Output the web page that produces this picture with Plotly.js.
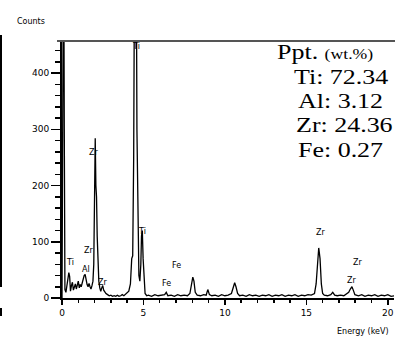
<!DOCTYPE html>
<html>
<head>
<meta charset="utf-8">
<script src="https://cdn.plot.ly/plotly-3.0.1.min.js"></script>
<style>html,body{margin:0;padding:0;background:#fff;}#chart{width:395px;height:340px;}</style>
</head>
<body>
<div id="chart"></div>
<script>
// Energy (keV) and counts
const energy = [0, 0.05, 0.1, 0.14, 0.18, 0.24, 0.3, 0.36, 0.42, 0.47, 0.52, 0.58, 0.64, 0.7, 0.76, 0.82, 0.88, 0.94, 1.0, 1.06, 1.12, 1.18, 1.24, 1.3, 1.36, 1.42, 1.48, 1.54, 1.6, 1.66, 1.72, 1.78, 1.84, 1.9, 1.95, 2.0, 2.04, 2.08, 2.12, 2.16, 2.2, 2.26, 2.32, 2.38, 2.44, 2.5, 2.56, 2.62, 2.7, 2.8, 2.9, 3.0, 3.1, 3.2, 3.3, 3.4, 3.5, 3.6, 3.7, 3.8, 3.9, 4.0, 4.1, 4.2, 4.28, 4.34, 4.4, 4.45, 4.5, 4.55, 4.6, 4.66, 4.72, 4.78, 4.84, 4.88, 4.93, 4.98, 5.04, 5.1, 5.2,
  5.3, 5.5, 5.7, 5.9, 6.1, 6.3, 6.4, 6.5, 6.7, 6.9, 7.1, 7.3, 7.5, 7.7, 7.85, 7.95, 8.03, 8.1, 8.18, 8.3, 8.5, 8.7, 8.85, 8.95, 9.05, 9.2, 9.4, 9.6, 9.8, 10.0, 10.2, 10.4, 10.52, 10.6, 10.68, 10.78, 10.9,
  11.1, 11.3, 11.5, 11.7, 11.9, 12.1, 12.3, 12.5, 12.7, 12.9, 13.1, 13.3, 13.5, 13.7, 13.9, 14.1, 14.3, 14.5, 14.7, 14.9, 15.1, 15.3, 15.5, 15.6, 15.68, 15.76, 15.84, 15.92, 16.0, 16.1, 16.3, 16.5, 16.62, 16.74, 16.9,
  17.1, 17.3, 17.45, 17.6, 17.7, 17.8, 17.88, 17.98, 18.2, 18.4, 18.6, 18.8, 19.0, 19.2, 19.4, 19.6, 19.8, 20.0, 20.2, 20.4];
const counts = [0, 300, 700, 300, 15, 10, 20, 30, 45, 38, 12, 22, 28, 14, 20, 25, 16, 22, 30, 18, 24, 20, 28, 34, 40, 42, 30, 24, 20, 26, 20, 16, 22, 30, 60, 190, 284, 200, 180, 110, 60, 30, 18, 12, 18, 22, 14, 10, 8, 6, 4, 5, 3, 4, 3, 5, 3, 4, 6, 4, 7, 9, 12, 25, 70, 75, 250, 600, 900, 700, 300, 90, 40, 30, 60, 110, 120, 70, 25, 8, 4,
  5, 3, 6, 4, 5, 6, 10, 4, 5, 3, 6, 4, 5, 4, 8, 28, 37, 30, 10, 5, 4, 6, 5, 15, 6, 4, 5, 3, 6, 4, 5, 8, 18, 27, 20, 8, 4,
  5, 3, 6, 4, 5, 3, 5, 4, 6, 3, 5, 4, 6, 3, 5, 4, 6, 3, 5, 4, 6, 5, 8, 25, 65, 89, 70, 25, 8, 5, 4, 6, 10, 5, 4,
  5, 4, 7, 10, 16, 20, 14, 6, 4, 6, 3, 5, 4, 6, 3, 5, 4, 6, 3, 4];

// Peak labels: element, energy, counts position
const peakNames = ["Ti", "Al", "Zr", "Zr", "Zr", "Ti", "Ti", "Fe", "Fe", "Zr", "Zr", "Zr"];
const peakE = [0.47, 1.45, 1.95, 1.64, 2.5, 4.55, 4.89, 7.04, 6.43, 15.88, 18.15, 17.8];
const peakC = [64, 50, 258, 84, 28, 447, 119, 57, 25, 116, 64, 32];

// Composition box
const compTitle = "Ppt.";
const compUnit = "(wt.%)";
const compLines = ["Ti: 72.34", "Al: 3.12", "Zr: 24.36", "Fe: 0.27"];

const xTickVals = [0, 5, 10, 15, 20];
const yTickVals = [0, 100, 200, 300, 400];

const L = 62, R = 1, T = 41, B = 42;
const W = 395, H = 340;
const pw = W - L - R, ph = H - T - B;
function px(p){ return (p - L) / pw; }
function py(q){ return (H - B - q) / ph; }

const annotations = [];
for (let i = 0; i < peakNames.length; i++) {
  annotations.push({x: peakE[i], y: peakC[i], xref: 'x', yref: 'y', text: peakNames[i], showarrow: false,
    font: {family: 'DejaVu Sans', size: 8, color: '#000'}, xanchor: 'center', yanchor: 'middle'});
}
const stretchIdx = [];
stretchIdx.push(annotations.length);
annotations.push({x: px(275), y: py(52), xref: 'paper', yref: 'paper', xanchor: 'left', yanchor: 'middle', showarrow: false,
  text: compTitle + ' <span style="font-size:15px">' + compUnit + '</span>',
  font: {family: 'Liberation Serif', size: 22, color: '#000'}});
const compX = [292, 296, 294, 296];
const compY = [76, 100, 125, 149];
for (let i = 0; i < compLines.length; i++) {
  stretchIdx.push(annotations.length);
  annotations.push({x: px(compX[i]), y: py(compY[i]), xref: 'paper', yref: 'paper', xanchor: 'left', yanchor: 'middle', showarrow: false,
    text: compLines[i], font: {family: 'Liberation Serif', size: 22, color: '#000'}});
}
annotations.push({x: px(31), y: py(21), xref: 'paper', yref: 'paper', xanchor: 'center', yanchor: 'middle', showarrow: false,
  text: 'Counts', font: {family: 'DejaVu Sans', size: 8, color: '#000'}});
annotations.push({x: px(363), y: py(331), xref: 'paper', yref: 'paper', xanchor: 'center', yanchor: 'middle', showarrow: false,
  text: 'Energy (keV)', font: {family: 'DejaVu Sans', size: 8, color: '#000'}});

const shapes = [
  {type: 'line', xref: 'paper', yref: 'paper', x0: px(57), x1: px(395), y0: py(41), y1: py(41), line: {color: '#555', width: 2}},
  {type: 'line', xref: 'paper', yref: 'paper', x0: px(1), x1: px(1), y0: py(35), y1: py(287), line: {color: '#000', width: 2}},
  {type: 'line', xref: 'paper', yref: 'paper', x0: px(1), x1: px(1), y0: py(308), y1: py(316), line: {color: '#000', width: 2}}
];

const trace = {x: energy, y: counts, type: 'scatter', mode: 'lines', line: {color: '#000', width: 1.3}, hoverinfo: 'skip'};

const layout = {
  width: W, height: H,
  margin: {l: L, r: R, t: T, b: B, pad: 0},
  paper_bgcolor: '#fff', plot_bgcolor: '#fff',
  showlegend: false,
  xaxis: {range: [0, pw / 16.29], tickvals: xTickVals, ticktext: xTickVals.map(String), ticks: 'outside', ticklen: 5, tickwidth: 1.5, tickcolor: '#000',
    minor: {dtick: 1, tick0: 0, ticks: 'outside', ticklen: 3, tickcolor: '#000', tickwidth: 1.5},
    showline: true, linecolor: '#000', linewidth: 2, showgrid: false, zeroline: false,
    tickfont: {family: 'DejaVu Sans', size: 9, color: '#000'}, fixedrange: true},
  yaxis: {range: [0, ph / 0.5625], tickvals: yTickVals, ticktext: yTickVals.map(String), ticks: 'outside', ticklen: 9, tickwidth: 1.5, tickcolor: '#000',
    minor: {dtick: 20, tick0: 0, ticks: 'outside', ticklen: 5, tickcolor: '#000', tickwidth: 1.5},
    showline: true, linecolor: '#000', linewidth: 2, showgrid: false, zeroline: false,
    tickfont: {family: 'DejaVu Sans', size: 9, color: '#000'}, fixedrange: true},
  annotations: annotations,
  shapes: shapes
};

Plotly.newPlot('chart', [trace], layout, {displayModeBar: false, staticPlot: true}).then(function(gd){
  // the reference text is horizontally stretched; widen it from its left edge
  stretchIdx.forEach(function(i){
    const t = gd.querySelector('.annotation[data-index="' + i + '"] text.annotation-text');
    if (!t) return;
    const b = t.getBBox();
    t.setAttribute('transform', 'translate(' + b.x + ',0) scale(1.18,1) translate(' + (-b.x) + ',0)');
  });
});
</script>
</body>
</html>
